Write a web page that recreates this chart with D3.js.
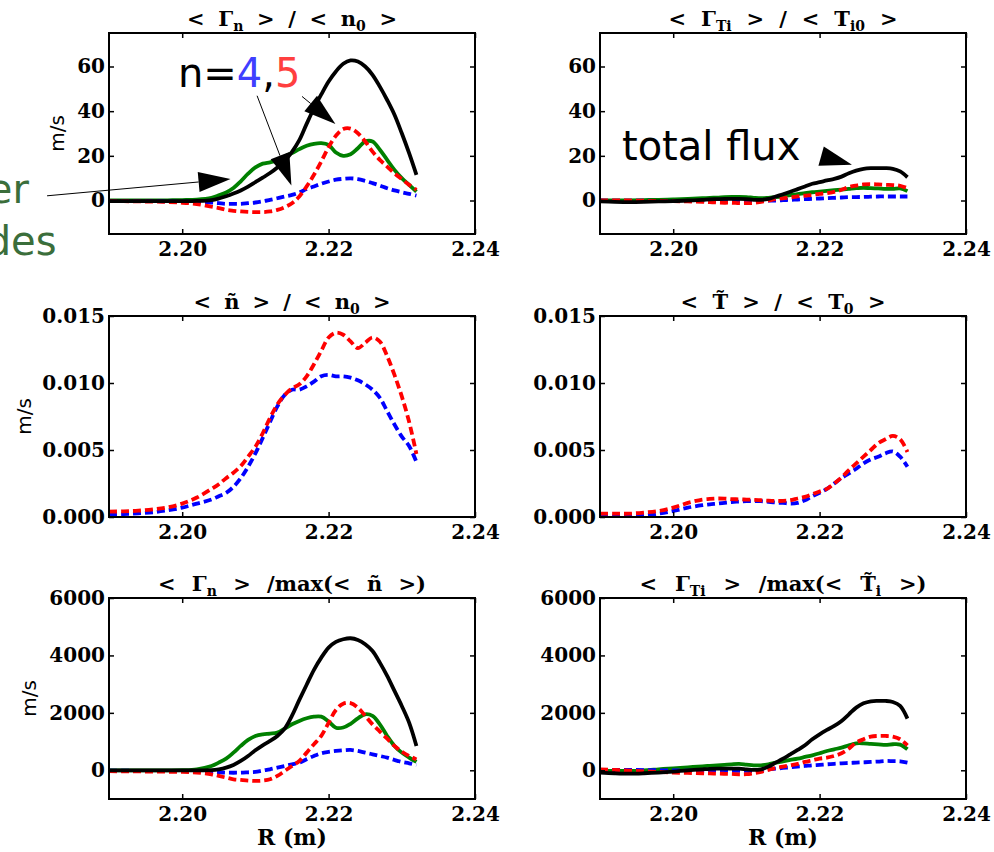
<!DOCTYPE html>
<html>
<head>
<meta charset="utf-8">
<script src="https://cdn.jsdelivr.net/npm/d3@7"></script>
<style>
  body { margin: 0; background: #fff; }
  svg { display: block; }
  .axis text { font-family: "DejaVu Serif", serif; font-weight: bold; font-size: 20px; fill: #000; }
  .axis line { stroke: #000; stroke-width: 1.5; }
  .title { font-family: "DejaVu Serif", serif; font-weight: bold; font-size: 21px; white-space: pre; }
  .ylabel { font-family: "DejaVu Sans", sans-serif; font-size: 20px; }
  .xlabel { font-family: "DejaVu Serif", serif; font-weight: bold; font-size: 22px; }
  .note { font-family: "DejaVu Sans", sans-serif; font-size: 40px; white-space: pre; }
</style>
</head>
<body>
<div class="chart"></div>
<script>
// Radius grid (m)
const R = [2.190, 2.192, 2.194, 2.196, 2.198, 2.200, 2.202, 2.204,
  2.205, 2.206, 2.207, 2.208, 2.209, 2.210, 2.211, 2.212, 2.213, 2.214,
  2.215, 2.216, 2.217, 2.218, 2.219, 2.220, 2.221, 2.222, 2.223, 2.224,
  2.225, 2.226, 2.227, 2.228, 2.229, 2.230, 2.231, 2.232];

// <Gamma_n> / <n0>  (m/s)
const gnTotal = [-0.3, -0.3, -0.3, -0.3, -0.3, -0.3, -0.2, 0.2,
  0.9, 1.9, 3.1, 4.5, 6.2, 8.2, 10.2, 12.3, 14.8, 17.8,
  21.8, 27, 34.3, 41.3, 47.5, 53.3, 57.8, 61.2, 62.7, 62.2,
  60, 56.3, 51, 45, 38.4, 30.1, 21.2, 11.5];
const gnOther = [0, 0, 0, 0, 0.1, 0.2, 0.4, 1.2,
  2.3, 3.6, 5.6, 8.6, 12, 14.8, 16.5, 17.1, 17.9, 19.7,
  21.2, 23, 24.5, 25.4, 25.7, 24.9, 21.5, 20, 20.7, 23.4,
  26.4, 26.4, 22.7, 18.2, 13.7, 10, 7, 4];
const gnN5 = [-0.3, -0.3, -0.4, -0.5, -0.7, -1.0, -1.6, -2.8,
  -3.4, -4.2, -4.6, -4.9, -5.1, -5.2, -5.2, -4.9, -4.2, -3,
  -1.2, 1.8, 6.3, 11.5, 17.5, 23.9, 29, 32, 32.2, 30.1,
  26.4, 21.9, 18.2, 15.2, 12.2, 9.6, 7, 4.8];
const gnN4 = [-0.3, -0.3, -0.3, -0.3, -0.4, -0.5, -0.6, -0.9,
  -1.2, -1.5, -1.5, -1.5, -1.2, -0.9, -0.4, 0.3, 1, 1.8,
  2.5, 3.6, 5.1, 6.3, 7.5, 8.5, 9.3, 9.7, 9.9, 9.6,
  8.8, 7.8, 6.7, 5.5, 4.5, 3.7, 3, 2.2];

// <Gamma_Ti> / <Ti0>  (m/s)
const gtTotal = [-0.4, -0.6, -0.7, -0.6, -0.4, -0.3, 0, 0.3,
  0.5, 0.6, 0.7, 0.7, 0.7, 0.6, 0.3, 0.3, 0.7, 1.8,
  2.8, 3.9, 5.1, 6.3, 7.5, 8.2, 9, 9.7, 10.7, 12.2,
  13.4, 14.2, 14.5, 14.5, 14.5, 14.2, 13, 10.4];
const gtOther = [0, 0, 0.1, 0.2, 0.3, 0.45, 0.7, 1,
  1.2, 1.3, 1.5, 1.6, 1.6, 1.5, 1.2, 1, 1.2, 1.5,
  1.9, 2.4, 2.8, 3.3, 3.7, 4, 4.3, 4.6, 4.9, 5.2,
  5.5, 5.7, 5.5, 5.4, 5.2, 5.2, 5.4, 4.2];
const gtN5 = [0.1, 0, 0, -0.1, -0.2, -0.3, -0.4, -0.6,
  -0.75, -0.9, -1, -1, -1.2, -1.2, -1.1, -0.6, 0, 0.6,
  1, 1.3, 1.8, 2.2, 2.5, 3, 3.3, 3.9, 4.8, 6,
  6.7, 7.2, 7.3, 7.2, 7, 6.9, 6.6, 5.5];
const gtN4 = [0, -0.1, -0.1, -0.1, -0.15, -0.15, -0.2, -0.25,
  -0.3, -0.3, -0.35, -0.4, -0.4, -0.4, -0.3, -0.25, -0.1, 0,
  0.15, 0.3, 0.45, 0.6, 0.75, 0.9, 1.05, 1.2, 1.35, 1.5,
  1.55, 1.6, 1.7, 1.8, 1.8, 1.8, 1.8, 1.8];

// <n~> / <n0>  (units of 1e-3)
const ntN5 = [0.40, 0.42, 0.47, 0.57, 0.72, 1.0, 1.45, 2.1,
  2.45, 2.9, 3.3, 3.8, 4.5, 5.25, 6.25, 7.4, 8.4, 9.1,
  9.6, 9.9, 10.5, 11.4, 12.4, 13.4, 13.75, 13.6, 13.1, 12.6,
  13.0, 13.4, 13.1, 12.0, 10.6, 9.0, 7.1, 4.7];
const ntN4 = [0.2, 0.22, 0.27, 0.35, 0.5, 0.7, 1.0, 1.3,
  1.55, 1.8, 2.25, 2.9, 3.75, 4.75, 5.9, 7.1, 8.25, 9.1,
  9.5, 9.5, 9.75, 10.1, 10.5, 10.6, 10.5, 10.5, 10.4, 10.2,
  9.9, 9.5, 8.9, 7.9, 6.9, 6.0, 5.3, 4.1];

// <T~> / <T0>  (units of 1e-3)
const ttN5 = [0.25, 0.25, 0.25, 0.33, 0.45, 0.7, 1.05, 1.3,
  1.35, 1.38, 1.37, 1.33, 1.32, 1.3, 1.28, 1.25, 1.22, 1.2,
  1.2, 1.25, 1.38, 1.5, 1.7, 1.9, 2.1, 2.5, 2.95, 3.5,
  4.0, 4.5, 5.0, 5.5, 5.8, 6.05, 5.8, 4.85];
const ttN4 = [0.05, 0.05, 0.08, 0.12, 0.25, 0.45, 0.7, 0.88,
  0.95, 1.0, 1.06, 1.12, 1.15, 1.18, 1.18, 1.18, 1.13, 1.08,
  1.05, 1.0, 1.05, 1.25, 1.55, 1.8, 2.1, 2.5, 2.9, 3.25,
  3.6, 4.0, 4.3, 4.5, 4.75, 4.9, 4.5, 3.75];

// <Gamma_n> / max(<n~>)  (m/s)
const gmTotal = [0, 0, 0, 0, 0, 0, 0, 5,
  35, 93, 186, 325, 500, 697, 871, 1022, 1196, 1450,
  1900, 2450, 2980, 3500, 3924, 4272, 4470, 4563, 4598, 4540,
  4389, 4156, 3750, 3286, 2763, 2240, 1660, 848];
const gmOther = [0, 0, 0, 0, 0, 5, 35, 150,
  267, 406, 615, 848, 1057, 1196, 1254, 1277, 1312, 1451,
  1602, 1718, 1811, 1869, 1869, 1700, 1480, 1490, 1620, 1811,
  1950, 1892, 1602, 1196, 848, 615, 441, 290];
const gmN5 = [-30, -35, -40, -45, -50, -58, -81, -139,
  -197, -255, -313, -337, -360, -372, -360, -313, -197, -23,
  151, 325, 615, 906, 1200, 1650, 2100, 2320, 2340, 2180,
  1900, 1600, 1350, 1100, 850, 650, 500, 380];
const gmN4 = [-15, -15, -20, -20, -20, -23, -30, -46,
  -65, -81, -85, -81, -70, -58, -10, 35, 93, 151,
  209, 267, 383, 499, 592, 639, 673, 697, 708, 673,
  615, 557, 499, 441, 360, 290, 244, 186];

// <Gamma_Ti> / max(<Ti~>)  (m/s)
const gmtTotal = [-81, -104, -116, -104, -81, -46, 0, 35,
  50, 58, 58, 58, 58, 35, 12, 35, 128, 267,
  406, 557, 708, 871, 1080, 1254, 1405, 1544, 1718, 1950,
  2183, 2334, 2403, 2415, 2415, 2380, 2241, 1800];
const gmtOther = [-23, -23, -23, 0, 35, 70, 104, 139,
  156, 174, 191, 209, 220, 197, 174, 174, 209, 267,
  313, 360, 406, 464, 522, 592, 673, 731, 789, 871,
  940, 940, 917, 906, 882, 906, 894, 731];
const gmtN5 = [35, 12, -12, -35, -58, -81, -93, -104,
  -110, -116, -122, -128, -139, -135, -104, -58, 12, 81,
  128, 174, 220, 290, 348, 406, 441, 499, 592, 755,
  964, 1080, 1173, 1196, 1196, 1173, 1080, 871];
const gmtN4 = [12, 12, 12, 6, 0, -6, -12, -12,
  -12, -12, -15, -20, -23, -23, -23, 5, 35, 58,
  81, 105, 128, 150, 174, 190, 209, 225, 244, 255,
  267, 278, 290, 305, 325, 320, 313, 267];

// Axes domains, ticks and labels
const xDomain = [2.19, 2.24];
const xTicks = [2.20, 2.22, 2.24];
const xTickLabels = ["2.20", "2.22", "2.24"];
const fluxDomain = [-15, 75];
const fluxTicks = [0, 20, 40, 60];
const fluxTickLabels = ["0", "20", "40", "60"];
const ampDomain = [0, 15];
const ampTicks = [0, 5, 10, 15];
const ampTickLabels = ["0.000", "0.005", "0.010", "0.015"];
const normDomain = [-1000, 6000];
const normTicks = [0, 2000, 4000, 6000];
const normTickLabels = ["0", "2000", "4000", "6000"];

// Panel titles: [text, isSubscript]
const titles = [
  [["< Γ", 0], ["n", 1], [" > / < n", 0], ["0", 1], [" >", 0]],
  [["< Γ", 0], ["Ti", 1], [" > / < T", 0], ["i0", 1], [" >", 0]],
  [["< ñ > / < n", 0], ["0", 1], [" >", 0]],
  [["< T\u0303 > / < T", 0], ["0", 1], [" >", 0]],
  [["< Γ", 0], ["n", 1], [" > /max(< ñ >)", 0]],
  [["< Γ", 0], ["Ti", 1], [" > /max(< T\u0303", 0], ["i", 1], [" >)", 0]],
];

// Define measurements

const width = 994;
const height = 852;
const cols = [{ x0: 109, x1: 475 }, { x0: 600, x1: 966 }];
const rows = [
  { y0: 33, y1: 234, labelX: 64 },
  { y0: 316, y1: 517, labelX: 31 },
  { y0: 598, y1: 799, labelX: 36 },
];
const lineWidth = 3.8;
const dash = "8,4";
const styles = {
  other: { color: "#008000", dash: null },
  n4: { color: "#0000ff", dash: dash },
  n5: { color: "#ff0000", dash: dash },
  total: { color: "#000000", dash: null },
};

const panels = [
  { col: 0, row: 0, title: titles[0], titleW: 210, domain: fluxDomain, ticks: fluxTicks, labels: fluxTickLabels, ylabel: true,
    series: [["other", gnOther], ["n4", gnN4], ["n5", gnN5], ["total", gnTotal]] },
  { col: 1, row: 0, title: titles[1], titleW: 229, domain: fluxDomain, ticks: fluxTicks, labels: fluxTickLabels, ylabel: false,
    series: [["other", gtOther], ["n4", gtN4], ["n5", gtN5], ["total", gtTotal]] },
  { col: 0, row: 1, title: titles[2], titleW: 197, domain: ampDomain, ticks: ampTicks, labels: ampTickLabels, ylabel: true,
    series: [["n4", ntN4], ["n5", ntN5]] },
  { col: 1, row: 1, title: titles[3], titleW: 205, domain: ampDomain, ticks: ampTicks, labels: ampTickLabels, ylabel: false,
    series: [["n4", ttN4], ["n5", ttN5]] },
  { col: 0, row: 2, title: titles[4], titleW: 268, domain: normDomain, ticks: normTicks, labels: normTickLabels, ylabel: true,
    series: [["other", gmOther], ["n4", gmN4], ["n5", gmN5], ["total", gmTotal]] },
  { col: 1, row: 2, title: titles[5], titleW: 287, domain: normDomain, ticks: normTicks, labels: normTickLabels, ylabel: false,
    series: [["other", gmtOther], ["n4", gmtN4], ["n5", gmtN5], ["total", gmtTotal]] },
];

// Add main svg

const svg = d3
  .select(".chart")
  .append("svg")
  .attr("width", width)
  .attr("height", height);

const scales = [];

panels.forEach((p, i) => {
  const c = cols[p.col];
  const r = rows[p.row];

  const x = d3.scaleLinear().domain(xDomain).range([c.x0, c.x1]);
  const y = d3.scaleLinear().domain(p.domain).range([r.y1, r.y0]);
  scales.push({ x, y });

  // Clip for the curves

  svg
    .append("clipPath")
    .attr("id", "clip" + i)
    .append("rect")
    .attr("x", c.x0)
    .attr("y", r.y0)
    .attr("width", c.x1 - c.x0)
    .attr("height", r.y1 - r.y0);

  // Add curves

  const line = d3
    .line()
    .x((d, j) => x(R[j]))
    .y((d) => y(d))
    .curve(d3.curveCatmullRom.alpha(0.5));

  const curves = svg.append("g").attr("clip-path", `url(#clip${i})`);
  p.series.forEach(([kind, values]) => {
    curves
      .append("path")
      .datum(values)
      .attr("d", line)
      .attr("fill", "none")
      .attr("stroke", styles[kind].color)
      .attr("stroke-width", lineWidth)
      .attr("stroke-dasharray", styles[kind].dash)
      .attr("stroke-linejoin", "round");
  });

  // Add axes (inward ticks on all four sides)

  const xLabel = (d) => xTickLabels[xTicks.indexOf(d)];
  const yLabel = (d) => p.labels[p.ticks.indexOf(d)];

  svg
    .append("g")
    .attr("class", "axis")
    .attr("transform", `translate(0, ${r.y1})`)
    .call(d3.axisBottom(x).tickValues(xTicks).tickFormat(xLabel).tickSize(-5).tickPadding(8))
    .call((g) => g.select(".domain").remove());

  svg
    .append("g")
    .attr("class", "axis")
    .attr("transform", `translate(0, ${r.y0})`)
    .call(d3.axisTop(x).tickValues(xTicks).tickFormat("").tickSize(-5))
    .call((g) => g.select(".domain").remove());

  svg
    .append("g")
    .attr("class", "axis")
    .attr("transform", `translate(${c.x0}, 0)`)
    .call(d3.axisLeft(y).tickValues(p.ticks).tickFormat(yLabel).tickSize(-5).tickPadding(4))
    .call((g) => g.select(".domain").remove());

  svg
    .append("g")
    .attr("class", "axis")
    .attr("transform", `translate(${c.x1}, 0)`)
    .call(d3.axisRight(y).tickValues(p.ticks).tickFormat("").tickSize(-5))
    .call((g) => g.select(".domain").remove());

  // Frame

  svg
    .append("rect")
    .attr("x", c.x0)
    .attr("y", r.y0)
    .attr("width", c.x1 - c.x0)
    .attr("height", r.y1 - r.y0)
    .attr("fill", "none")
    .attr("stroke", "#000")
    .attr("stroke-width", 2);

  // Title (spaces widened to the measured title width)

  const title = svg
    .append("text")
    .attr("class", "title")
    .attr("x", (c.x0 + c.x1) / 2)
    .attr("y", r.y0 - 7)
    .attr("text-anchor", "middle");

  let shifted = false;
  p.title.forEach(([text, sub]) => {
    const t = title.append("tspan").text(text);
    if (sub) {
      t.attr("font-size", "14px").attr("dy", shifted ? 0 : 5);
      shifted = true;
    } else if (shifted) {
      t.attr("dy", -5);
      shifted = false;
    }
  });

  const spaces = p.title.map((d) => d[0]).join("").split(" ").length - 1;
  const natural = title.node().getComputedTextLength();
  title.attr("word-spacing", Math.max(0, (p.titleW - natural) / spaces));

  // Y label

  if (p.ylabel) {
    svg
      .append("text")
      .attr("class", "ylabel")
      .attr("text-anchor", "middle")
      .attr("transform", `translate(${r.labelX}, ${(r.y0 + r.y1) / 2}) rotate(-90)`)
      .text("m/s");
  }

  // X label on the bottom row

  if (p.row === 2) {
    svg
      .append("text")
      .attr("class", "xlabel")
      .attr("text-anchor", "middle")
      .attr("x", (c.x0 + c.x1) / 2)
      .attr("y", 845)
      .text("R (m)");
  }
});

// Annotations

const headLen = 32;
const headHalf = 10;

function arrow(s, from, to, shaft) {
  const x1 = s.x(from[0]);
  const y1 = s.y(from[1]);
  const x2 = s.x(to[0]);
  const y2 = s.y(to[1]);
  const len = Math.hypot(x2 - x1, y2 - y1);
  const ux = (x2 - x1) / len;
  const uy = (y2 - y1) / len;
  const bx = x2 - ux * headLen;
  const by = y2 - uy * headLen;
  if (shaft) {
    svg
      .append("line")
      .attr("x1", x1)
      .attr("y1", y1)
      .attr("x2", bx)
      .attr("y2", by)
      .attr("stroke", "#000")
      .attr("stroke-width", 1);
  }
  svg
    .append("path")
    .attr(
      "d",
      `M${x2},${y2}L${bx - uy * headHalf},${by + ux * headHalf}L${bx + uy * headHalf},${by - ux * headHalf}Z`
    )
    .attr("fill", "#000");
}

const s1 = scales[0];
const s2 = scales[1];

arrow(s1, [2.21023, 46.9], [2.21492, 6.7], true);
arrow(s1, [2.21637, 46.6], [2.22093, 34.3], true);
arrow(s1, [2.18154, 2.1], [2.2066, 9.6], true);
arrow(s2, [2.22015, 19.9], [2.22442, 16.0], false);

const n45 = svg
  .append("text")
  .attr("class", "note")
  .attr("x", s1.x(2.19941))
  .attr("y", s1.y(51));
n45.append("tspan").attr("fill", "#000").text("n=");
n45.append("tspan").attr("fill", "#3f3fff").text("4");
n45.append("tspan").attr("fill", "#000").text(",");
n45.append("tspan").attr("fill", "#ff3f3f").text("5");

svg
  .append("text")
  .attr("class", "note")
  .attr("x", s2.x(2.193))
  .attr("y", s2.y(18.2))
  .text("total flux");

// Side label, cut by the left edge as in the original slide

const other = svg
  .append("text")
  .attr("class", "note")
  .attr("fill", "#3b6e3b");
other.append("tspan").attr("x", s1.x(2.16449)).attr("y", s1.y(-1.03)).text("other");
other.append("tspan").attr("x", s1.x(2.16449)).attr("y", s1.y(-24.3)).text("modes");
</script>
</body>
</html>
